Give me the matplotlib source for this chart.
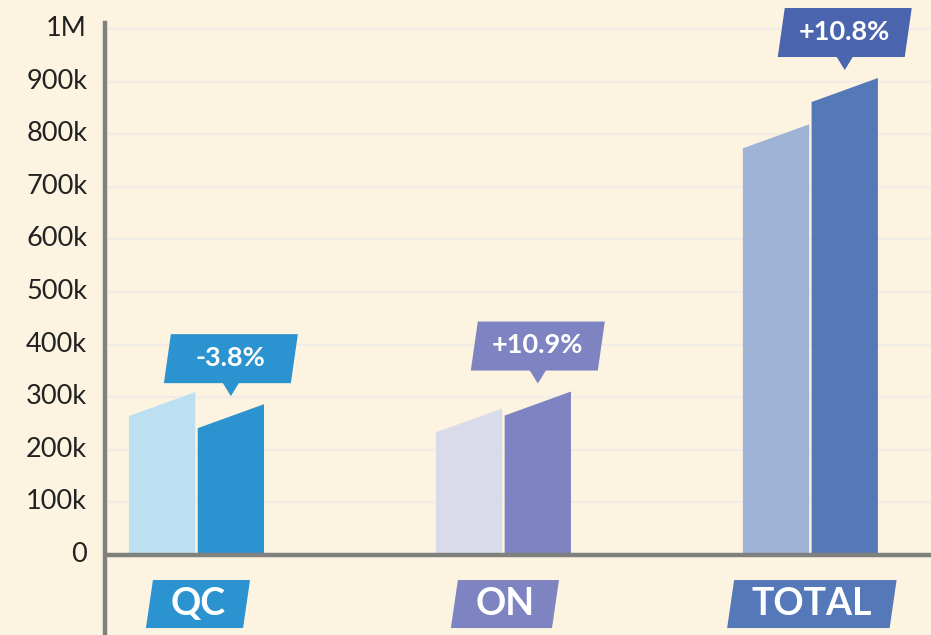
import matplotlib
matplotlib.use('Agg')
import matplotlib.pyplot as plt
from matplotlib.patches import Polygon
from matplotlib.transforms import ScaledTranslation

# ---- data ----
categories = ['QC', 'ON', 'TOTAL']
previous = [287000, 256000, 796000]
current = [264000, 288000, 884000]
changes = ['-3.8%', '+10.9%', '+10.8%']
yticks = [0, 100000, 200000, 300000, 400000, 500000, 600000, 700000, 800000, 900000, 1000000]
ytick_labels = ['0', '100k', '200k', '300k', '400k', '500k', '600k', '700k', '800k', '900k', '1M']

# ---- style ----
light_colors = ['#BCDFF1', '#D9DBEB', '#9FB3D6']
dark_colors = ['#2B93CF', '#7E84C1', '#5578B8']
callout_colors = ['#2B93CF', '#7E84C1', '#4A64AE']
tag_colors = ['#2B93CF', '#7E84C1', '#5578B8']
BG = '#FDF3E1'
GRID = '#F1EDE6'
AXIS = '#7F817F'
FONT = ['Lato', 'DejaVu Sans']

plt.rcParams['font.family'] = FONT

W, H = 931, 635
fig = plt.figure(figsize=(W / 100, H / 100), dpi=100, facecolor=BG)
left_px, top_px = 104.5, 23
ax = fig.add_axes([left_px / W, 0, 1 - left_px / W, 1 - top_px / H])
ax.set_facecolor(BG)
ax.set_xlim(-0.2997, 2.393)
ax.set_ylim(-152000, 1011400)

# pixel -> data conversion factors
ax_w_px = W - left_px
ax_h_px = H - top_px
xpp = (2.393 + 0.2997) / ax_w_px
ypp = (1011400 + 152000) / ax_h_px

for s in ['top', 'right', 'bottom']:
    ax.spines[s].set_visible(False)
ax.spines['left'].set_color(AXIS)
ax.spines['left'].set_linewidth(3.2)

ax.set_yticks(yticks)
ax.set_yticklabels(ytick_labels)
ax.tick_params(axis='y', length=0, pad=12.5, labelsize=19.5, labelcolor='#222222')
ax.set_xticks([])
off = ScaledTranslation(0, 0.03, fig.dpi_scale_trans)
for lab in ax.get_yticklabels():
    lab.set_transform(lab.get_transform() + off)

for yv in yticks[1:]:
    ax.axhline(yv, color=GRID, lw=1.6, zorder=0)
ax.axhline(0, color=AXIS, lw=3.2, zorder=5)

half_gap = 0.004
bar_w = 0.216
half_slant = 12 * ypp

fig.canvas.draw()
renderer = fig.canvas.get_renderer()

for i, cat in enumerate(categories):
    c = i
    # previous (light) bar
    x0, x1 = c - half_gap - bar_w, c - half_gap
    v = previous[i]
    ax.add_patch(Polygon([(x0, 0), (x1, 0), (x1, v + half_slant), (x0, v - half_slant)],
                         closed=True, facecolor=light_colors[i], edgecolor='none', zorder=3))
    # current (dark) bar
    x0, x1 = c + half_gap, c + half_gap + bar_w
    v = current[i]
    ax.add_patch(Polygon([(x0, 0), (x1, 0), (x1, v + half_slant), (x0, v - half_slant)],
                         closed=True, facecolor=dark_colors[i], edgecolor='none', zorder=3))

    # callout
    cx = (x0 + x1) / 2
    tip = v + 20 * ypp
    bot = tip + 13 * ypp
    top = bot + 49 * ypp
    hw = 63.5 * xpp
    sl = 3.5 * xpp
    pw = 8 * xpp
    callout = [(cx - hw - sl, bot), (cx - pw, bot), (cx, tip), (cx + pw, bot),
               (cx + hw - sl, bot), (cx + hw + sl, top), (cx - hw + sl, top)]
    ax.add_patch(Polygon(callout, closed=True, facecolor=callout_colors[i],
                         edgecolor='none', zorder=6, clip_on=False))
    ax.text(cx, (bot + top) / 2 + 1 * ypp, changes[i], ha='center', va='center', color='white',
            fontsize=19.5, fontweight='bold', zorder=7, clip_on=False)

    # category tag
    tx = c + 1.5 * xpp
    ty0 = -(580 - 555) * ypp
    ty1 = -(628 - 555) * ypp
    t = ax.text(tx, (ty0 + ty1) / 2, cat, ha='center', va='center', color='white',
                fontsize=27, fontweight='bold', zorder=7)
    tw = t.get_window_extent(renderer=renderer).width
    thw = (tw / 2 + 21) * xpp
    tsl = 3.5 * xpp
    ax.add_patch(Polygon([(tx - thw - tsl, ty1), (tx + thw - tsl, ty1),
                          (tx + thw + tsl, ty0), (tx - thw + tsl, ty0)],
                         closed=True, facecolor=tag_colors[i], edgecolor='none', zorder=6))

fig.savefig('out.png', dpi=100, facecolor=BG)
